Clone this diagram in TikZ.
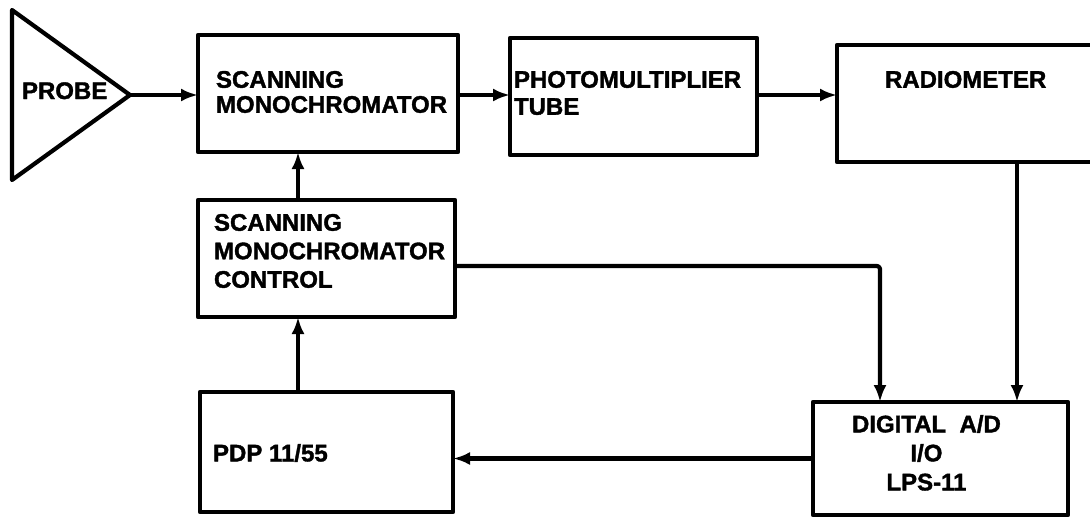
\documentclass[tikz,border=0pt]{standalone}
\usepackage{fontspec}
\setmainfont{Liberation Sans}[BoldFeatures={FakeBold=1.5}]
\usetikzlibrary{arrows.meta}
\begin{document}
\begin{tikzpicture}[x=1pt,y=-1pt,
  every node/.style={inner sep=0pt, outer sep=0pt},
  blk/.style={draw, line width=4.2pt, line join=round, rectangle},
  lbl/.style={anchor=north west, align=left, font=\bfseries\fontsize{24}{26}\selectfont},
  conn/.style={line width=4.2pt, line join=round},
  arr/.style={conn, -{Latex[length=17pt,width=13pt]}}]
\useasboundingbox (0,0) rectangle (1090,520);
\clip (0,0) rectangle (1090,520);
% probe triangle
\draw[line width=4.2pt, line join=round] (12,10) -- (130,95) -- (12,180) -- cycle;
\coordinate (probetip) at (130,95);
\node[lbl, anchor=base west] (tprobe) at (22,99) {PROBE};
% boxes
\node[blk, minimum width=260pt, minimum height=117pt] (sm) at (328,93.5) {};
\node[blk, minimum width=247pt, minimum height=117pt] (pmt) at (633.5,96.5) {};
\node[blk, minimum width=270pt, minimum height=117pt] (rad) at (972,103.5) {};
\node[blk, minimum width=257pt, minimum height=117pt] (ctl) at (326.5,258.5) {};
\node[blk, minimum width=253pt, minimum height=120pt] (pdp) at (326.5,452) {};
\node[blk, minimum width=255pt, minimum height=113pt] (dig) at (940.5,458.5) {};
% labels
\node[lbl, font=\bfseries\fontsize{24}{25}\selectfont] (tsm) at (216,71) {SCANNING\\MONOCHROMATOR};
\node[lbl, font=\bfseries\fontsize{24}{27}\selectfont] (tpmt) at (514,71) {PHOTOMULTIPLIER\\TUBE};
\node[lbl] (trad) at (885,71) {RADIOMETER};
\node[lbl, font=\bfseries\fontsize{24}{28.5}\selectfont] (tctl) at (214,214) {SCANNING\\MONOCHROMATOR\\CONTROL};
\node[lbl] (tpdp) at (213,444) {PDP 11/55};
\node[lbl, align=center, font=\bfseries\fontsize{24}{29}\selectfont] (tdig) at (852,415) {DIGITAL\ \ A/D\\I/O\\LPS-11};
% coordinates for vertical connectors
\coordinate (xa) at (298,0);
\coordinate (xb) at (880,0);
\coordinate (xc) at (1017,0);
% connectors
\draw[arr] (probetip) -- (probetip -| sm.west);
\draw[arr] ([yshift=-1.5pt]sm.east) -- ([yshift=-1.5pt]sm.east -| pmt.west);
\draw[arr] ([yshift=1.5pt]pmt.east) -- ([yshift=1.5pt]pmt.east -| rad.west);
\draw[arr] (ctl.north -| xa) -- (sm.south -| xa);
\draw[arr] (pdp.north -| xa) -- (ctl.south -| xa);
\draw[arr, rounded corners=3pt] ([yshift=-7.5pt]ctl.east) -| (dig.north -| xb);
\draw[arr] (rad.south -| xc) -- (dig.north -| xc);
\draw[arr] (dig.west) -- (dig.west -| pdp.east);
\end{tikzpicture}
\end{document}
